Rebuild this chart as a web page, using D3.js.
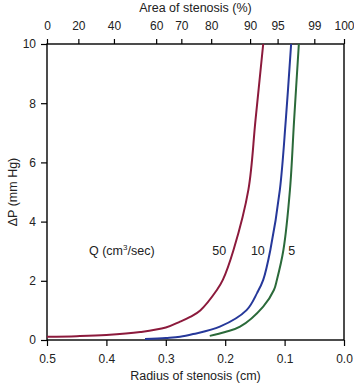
<!DOCTYPE html>
<html>
<head>
<meta charset="utf-8">
<script src="https://cdn.jsdelivr.net/npm/d3@7"></script>
<style>
  body { margin: 0; background: #fff; }
  text { font-family: "Liberation Sans", Arial, sans-serif; }
</style>
</head>
<body>
<svg width="354" height="385"></svg>
<script>
// radius of stenosis (cm) vs pressure drop (mm Hg)
var q50R = [0.5, 0.45, 0.4, 0.343, 0.3, 0.276, 0.259, 0.242, 0.214, 0.204, 0.186, 0.161, 0.149, 0.136];
var q50P = [0.11, 0.13, 0.17, 0.27, 0.42, 0.62, 0.78, 1.0, 1.69, 2.03, 3.04, 5.07, 7.43, 10];

var q10R = [0.335, 0.3, 0.276, 0.254, 0.209, 0.164, 0.146, 0.136, 0.124, 0.108, 0.098, 0.089];
var q10P = [0.03, 0.07, 0.11, 0.2, 0.45, 1.01, 1.6, 2.03, 3.04, 5.07, 7.43, 10];

var q5R = [0.226, 0.2, 0.175, 0.136, 0.118, 0.113, 0.102, 0.091, 0.084, 0.076];
var q5P = [0.14, 0.27, 0.45, 1.13, 1.69, 2.03, 3.04, 5.07, 7.43, 10];

var radiusTicks = [0.5, 0.4, 0.3, 0.2, 0.1, 0.0];
var pressureTicks = [0, 2, 4, 6, 8, 10];
var areaTicks = [0, 20, 40, 60, 70, 80, 90, 95, 99, 100];

var series = [
    {name: "50", r: q50R, p: q50P, color: "#8c1a3c", labelR: 0.21},
    {name: "10", r: q10R, p: q10P, color: "#26389a", labelR: 0.145},
    {name: "5", r: q5R, p: q5P, color: "#2b6a3a", labelR: 0.088}
];

var svg = d3.select("svg");
var margin = {top: 44, right: 10, bottom: 45, left: 47};
var width = 354 - margin.left - margin.right;
var height = 385 - margin.top - margin.bottom;

var x = d3.scaleLinear().domain([0.5, 0]).range([0, width]);
var y = d3.scaleLinear().domain([0, 10]).range([height, 0]);

var g = svg.append("g")
    .attr("transform", "translate(" + margin.left + "," + margin.top + ")");

g.append("clipPath").attr("id", "clip")
    .append("rect").attr("width", width).attr("height", height);

// bottom axis
var xAxis = g.append("g")
    .attr("transform", "translate(0," + height + ")")
    .call(d3.axisBottom(x).tickValues(radiusTicks).tickFormat(d3.format(".1f")).tickSize(6).tickPadding(8));

// left axis
var yAxis = g.append("g")
    .call(d3.axisLeft(y).tickValues(pressureTicks).tickSize(6).tickPadding(5));

// top axis: area of stenosis, area = 1 - (r/0.5)^2
var areaToR = function(a) { return 0.5 * Math.sqrt(1 - a / 100); };
var topAxis = g.append("g")
    .call(d3.axisTop(d3.scaleLinear().domain([0, width]).range([0, width]))
        .tickValues(areaTicks.map(function(a) { return x(areaToR(a)); }))
        .tickFormat(function(d, i) { return areaTicks[i]; })
        .tickSize(5).tickPadding(9));

[xAxis, yAxis, topAxis].forEach(function(a) {
    a.select(".domain").remove();
    a.selectAll("line").attr("stroke", "#000").attr("stroke-width", 1.2);
    a.selectAll("text").attr("font-size", 12).attr("fill", "#222")
        .style("font-family", "'Liberation Sans', Arial, sans-serif");
});

g.append("rect")
    .attr("width", width).attr("height", height)
    .attr("fill", "none").attr("stroke", "#000").attr("stroke-width", 1.4);

var line = d3.line()
    .x(function(d) { return x(d[0]); })
    .y(function(d) { return y(d[1]); })
    .curve(d3.curveCatmullRom.alpha(0.5));

series.forEach(function(s) {
    var pts = s.r.map(function(r, i) { return [r, s.p[i]]; });
    g.append("path")
        .datum(pts)
        .attr("clip-path", "url(#clip)")
        .attr("fill", "none")
        .attr("stroke", s.color)
        .attr("stroke-width", 2)
        .attr("d", line);
});

// curve labels
series.forEach(function(s) {
    g.append("text")
        .attr("x", x(s.labelR))
        .attr("y", y(3.0) + 4)
        .attr("text-anchor", "middle")
        .attr("font-size", 12.5)
        .attr("fill", "#222")
        .text(s.name);
});

var qLabel = g.append("text")
    .attr("x", 42)
    .attr("y", y(3.0) + 4)
    .attr("font-size", 12.5)
    .attr("fill", "#222");
qLabel.append("tspan").text("Q (cm");
qLabel.append("tspan").attr("font-size", 8).attr("dy", -5).text("3");
qLabel.append("tspan").attr("dy", 5).text("/sec)");

// axis titles
svg.append("text")
    .attr("x", margin.left + width / 2)
    .attr("y", 380)
    .attr("text-anchor", "middle")
    .attr("font-size", 12.5)
    .attr("fill", "#222")
    .text("Radius of stenosis (cm)");

svg.append("text")
    .attr("x", margin.left + width / 2)
    .attr("y", 12)
    .attr("text-anchor", "middle")
    .attr("font-size", 12.5)
    .attr("fill", "#222")
    .text("Area of stenosis (%)");

svg.append("text")
    .attr("transform", "translate(17," + (margin.top + height / 2) + ") rotate(-90)")
    .attr("text-anchor", "middle")
    .attr("font-size", 12.5)
    .attr("fill", "#222")
    .text("ΔP (mm Hg)");
</script>
</body>
</html>
